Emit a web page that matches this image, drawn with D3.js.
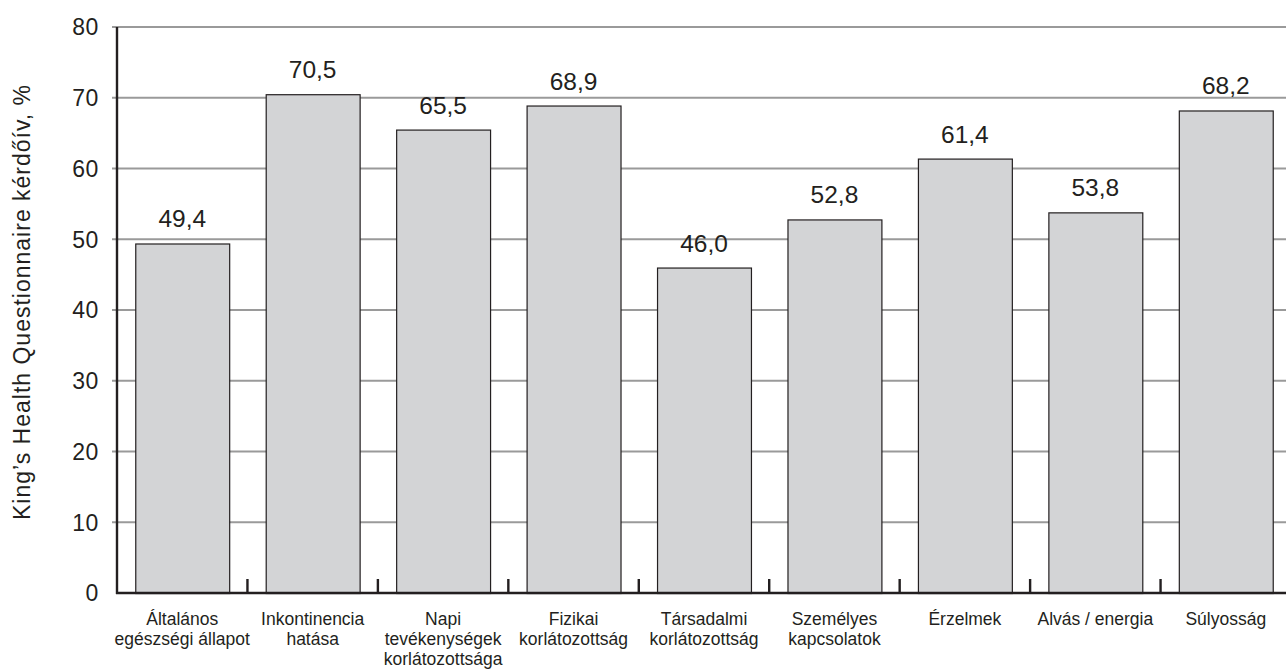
<!DOCTYPE html>
<html>
<head>
<meta charset="utf-8">
<script src="https://cdn.jsdelivr.net/npm/d3@7"></script>
<style>
  html, body { margin: 0; padding: 0; background: #fff; }
  svg { display: block; font-family: "Liberation Sans", Arial, sans-serif; }
</style>
</head>
<body>
<svg id="chart" width="1286" height="669"></svg>
<script>
// King's Health Questionnaire domain scores
const categories = [
  ["Általános", "egészségi állapot"],
  ["Inkontinencia", "hatása"],
  ["Napi", "tevékenységek", "korlátozottsága"],
  ["Fizikai", "korlátozottság"],
  ["Társadalmi", "korlátozottság"],
  ["Személyes", "kapcsolatok"],
  ["Érzelmek"],
  ["Alvás / energia"],
  ["Súlyosság"]
];
const values = [49.4, 70.5, 65.5, 68.9, 46.0, 52.8, 61.4, 53.8, 68.2];
const yTicks = [0, 10, 20, 30, 40, 50, 60, 70, 80];
const yTitle = "King’s Health Questionnaire kérdőív, %";

const svg = d3.select("#chart");
const plotLeft = 117, plotRight = 1291, plotTop = 27, plotBottom = 593;
const ink = "#231f20";

const keys = categories.map((c, i) => i);
const x = d3.scaleBand().domain(keys).range([plotLeft, plotRight]).paddingInner(0.28).paddingOuter(0.14);
const xb = d3.scaleBand().domain(keys).range([plotLeft, plotRight]); // full bands for separator ticks
const y = d3.scaleLinear().domain([0, 80]).range([plotBottom, plotTop]);

// horizontal gridlines with outward tick stubs
svg.append("g").selectAll("line").data(yTicks.filter(d => d > 0)).join("line")
  .attr("x1", plotLeft - 5).attr("x2", 1286)
  .attr("y1", d => y(d)).attr("y2", d => y(d))
  .attr("stroke", "#9a9a9a").attr("stroke-width", 2);

// y tick labels
svg.append("g").selectAll("text").data(yTicks).join("text")
  .attr("x", 99).attr("y", d => y(d)).attr("dy", "0.36em")
  .attr("text-anchor", "end").attr("font-size", 23).attr("fill", ink)
  .attr("letter-spacing", 0.6)
  .text(d => d);

// bars
svg.append("g").selectAll("rect").data(values).join("rect")
  .attr("x", (d, i) => x(i) + 0.5).attr("width", x.bandwidth())
  .attr("y", d => y(d) + 0.5).attr("height", d => plotBottom - y(d))
  .attr("fill", "#d3d4d6").attr("stroke", ink).attr("stroke-width", 1.2);

// value labels
svg.append("g").selectAll("text").data(values).join("text")
  .attr("x", (d, i) => x(i) + x.bandwidth() / 2)
  .attr("y", d => y(d) - 16)
  .attr("text-anchor", "middle").attr("font-size", 24.5).attr("fill", ink)
  .text(d => d.toFixed(1).replace(".", ","));

// axis lines
svg.append("line").attr("x1", plotLeft).attr("x2", plotLeft).attr("y1", plotTop).attr("y2", plotBottom + 1)
  .attr("stroke", ink).attr("stroke-width", 2.4);
svg.append("line").attr("x1", plotLeft - 1).attr("x2", 1286).attr("y1", plotBottom).attr("y2", plotBottom)
  .attr("stroke", ink).attr("stroke-width", 2.4);

// inward category separator ticks
svg.append("g").selectAll("line").data(keys.slice(1)).join("line")
  .attr("x1", d => xb(d)).attr("x2", d => xb(d))
  .attr("y1", plotBottom).attr("y2", plotBottom - 14)
  .attr("stroke", ink).attr("stroke-width", 2.4);

// category labels
const cat = svg.append("g").selectAll("text").data(categories).join("text")
  .attr("text-anchor", "middle").attr("font-size", 17.5).attr("fill", ink)
  .attr("transform", (d, i) => `translate(${x(i) + x.bandwidth() / 2},625)`);
cat.selectAll("tspan").data(d => d).join("tspan")
  .attr("x", 0).attr("dy", (d, j) => j === 0 ? 0 : 20).text(d => d);

// y axis title
svg.append("text")
  .attr("transform", "translate(30,302) rotate(-90)")
  .attr("text-anchor", "middle").attr("font-size", 23).attr("fill", ink)
  .attr("letter-spacing", 1)
  .text(yTitle);
</script>
</body>
</html>
